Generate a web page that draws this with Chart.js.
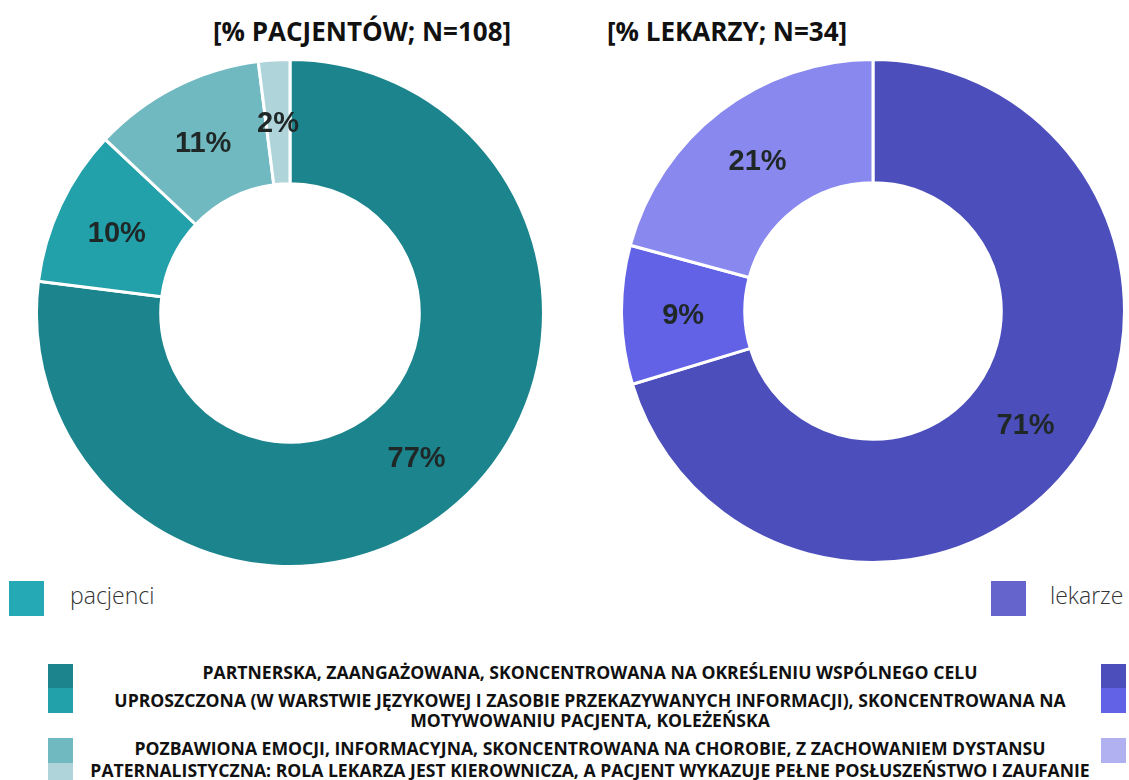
<!DOCTYPE html>
<html lang="pl">
<head>
<meta charset="utf-8">
<script src="https://cdn.jsdelivr.net/npm/chart.js@4.4.1/dist/chart.umd.min.js"></script>
<style>
    html, body { margin: 0; padding: 0; background: #fff; }
    body { width: 1129px; height: 780px; position: relative; overflow: hidden; font-family: "Open Sans", sans-serif; }
    .title { position: absolute; top: 13px; font-weight: 700; font-size: 26px; color: #111; white-space: nowrap; }
    .chart-box { position: absolute; }
    .sq { position: absolute; }
    .series { position: absolute; font-weight: 300; font-size: 23px; color: #333; top: 579px; }
    .cats { position: absolute; left: 70px; width: 1040px; top: 662px; text-align: center; font-weight: 700; font-size: 17.6px; color: #111; }
    .cats div { line-height: 20px; }
</style>
</head>
<body>

<div class="title" style="left:213px">[% PACJENTÓW; N=108]</div>
<div class="title" style="left:607px">[% LEKARZY; N=34]</div>

<div class="chart-box" style="left:35px; top:58px; width:510px; height:510px"><canvas id="chart-pacjenci"></canvas></div>
<div class="chart-box" style="left:620px; top:58px; width:506px; height:506px"><canvas id="chart-lekarze"></canvas></div>

<div class="sq" style="left:9px; top:581px; width:35px; height:35px; background:#25aab5"></div>
<div class="series" style="left:70px">pacjenci</div>
<div class="sq" style="left:991px; top:581px; width:35px; height:35px; background:#6464cc"></div>
<div class="series" style="left:1050px">lekarze</div>

<div id="legend-squares"></div>
<div class="cats" id="legend-text"></div>

<script>
const categories = [
    "PARTNERSKA, ZAANGAŻOWANA, SKONCENTROWANA NA OKREŚLENIU WSPÓLNEGO CELU",
    "UPROSZCZONA (W WARSTWIE JĘZYKOWEJ I ZASOBIE PRZEKAZYWANYCH INFORMACJI), SKONCENTROWANA NA MOTYWOWANIU PACJENTA, KOLEŻEŃSKA",
    "POZBAWIONA EMOCJI, INFORMACYJNA, SKONCENTROWANA NA CHOROBIE, Z ZACHOWANIEM DYSTANSU",
    "PATERNALISTYCZNA: ROLA LEKARZA JEST KIEROWNICZA, A PACJENT WYKAZUJE PEŁNE POSŁUSZEŃSTWO I ZAUFANIE"
]

const pacjenciValues = [77, 10, 11, 2]
const lekarzeValues = [71, 9, 21, 0]

const pacjenciColors = ["#1b848c", "#22a1aa", "#70b9c0", "#afd5da"]
const lekarzeColors = ["#4c4fbb", "#6262e6", "#8888ee", "#b1b1f2"]

const percentLabels = {
    id: 'percentLabels',
    afterDatasetsDraw(chart) {
        const ctx = chart.ctx
        const meta = chart.getDatasetMeta(0)
        const values = chart.data.datasets[0].data
        ctx.save()
        ctx.font = 'bold 29px "Liberation Sans", Arial, sans-serif'
        ctx.fillStyle = '#1f2727'
        ctx.textAlign = 'center'
        ctx.textBaseline = 'middle'
        meta.data.forEach((arc, i) => {
            if (!values[i]) return
            const p = arc.tooltipPosition()
            ctx.fillText(values[i] + '%', p.x, p.y + 2)
        })
        ctx.restore()
    }
}

function renderDonut(id, values, colors) {
    const chart = document.getElementById(id)
    const chartOptions = {
        type: 'doughnut',
        data: {
            labels: categories,
            datasets: [{
                data: values,
                backgroundColor: colors,
                borderColor: '#ffffff',
                borderWidth: 3
            }]
        },
        options: {
            responsive: true,
            maintainAspectRatio: false,
            animation: false,
            cutout: '51%',
            plugins: {
                legend: { display: false },
                tooltip: { enabled: false }
            }
        },
        plugins: [percentLabels]
    }
    new Chart(chart, chartOptions)
}

function renderLegend() {
    const squares = document.getElementById('legend-squares')
    const rowTops = [664, 688, 738, 763]
    const rowHeights = [24, 25, 25, 17]
    let html = ''
    for (let i = 0; i < categories.length; i++) {
        html += `<div class="sq" style="left:48px; top:${rowTops[i]}px; width:25px; height:${rowHeights[i]}px; background:${pacjenciColors[i]}"></div>`
        if (lekarzeValues[i]) {
            html += `<div class="sq" style="left:1101px; top:${rowTops[i]}px; width:25px; height:${rowHeights[i]}px; background:${i === 2 ? '#b1b1f2' : lekarzeColors[i]}"></div>`
        }
    }
    squares.innerHTML = html

    // odstepy miedzy wierszami jak na oryginale
    const gaps = [0, 8, 8, 2]
    const text = document.getElementById('legend-text')
    text.innerHTML = categories.map((c, i) => `<div style="margin-top:${gaps[i]}px">${c}</div>`).join('')
}

renderDonut('chart-pacjenci', pacjenciValues, pacjenciColors)
renderDonut('chart-lekarze', lekarzeValues, lekarzeColors)
renderLegend()
</script>
</body>
</html>
